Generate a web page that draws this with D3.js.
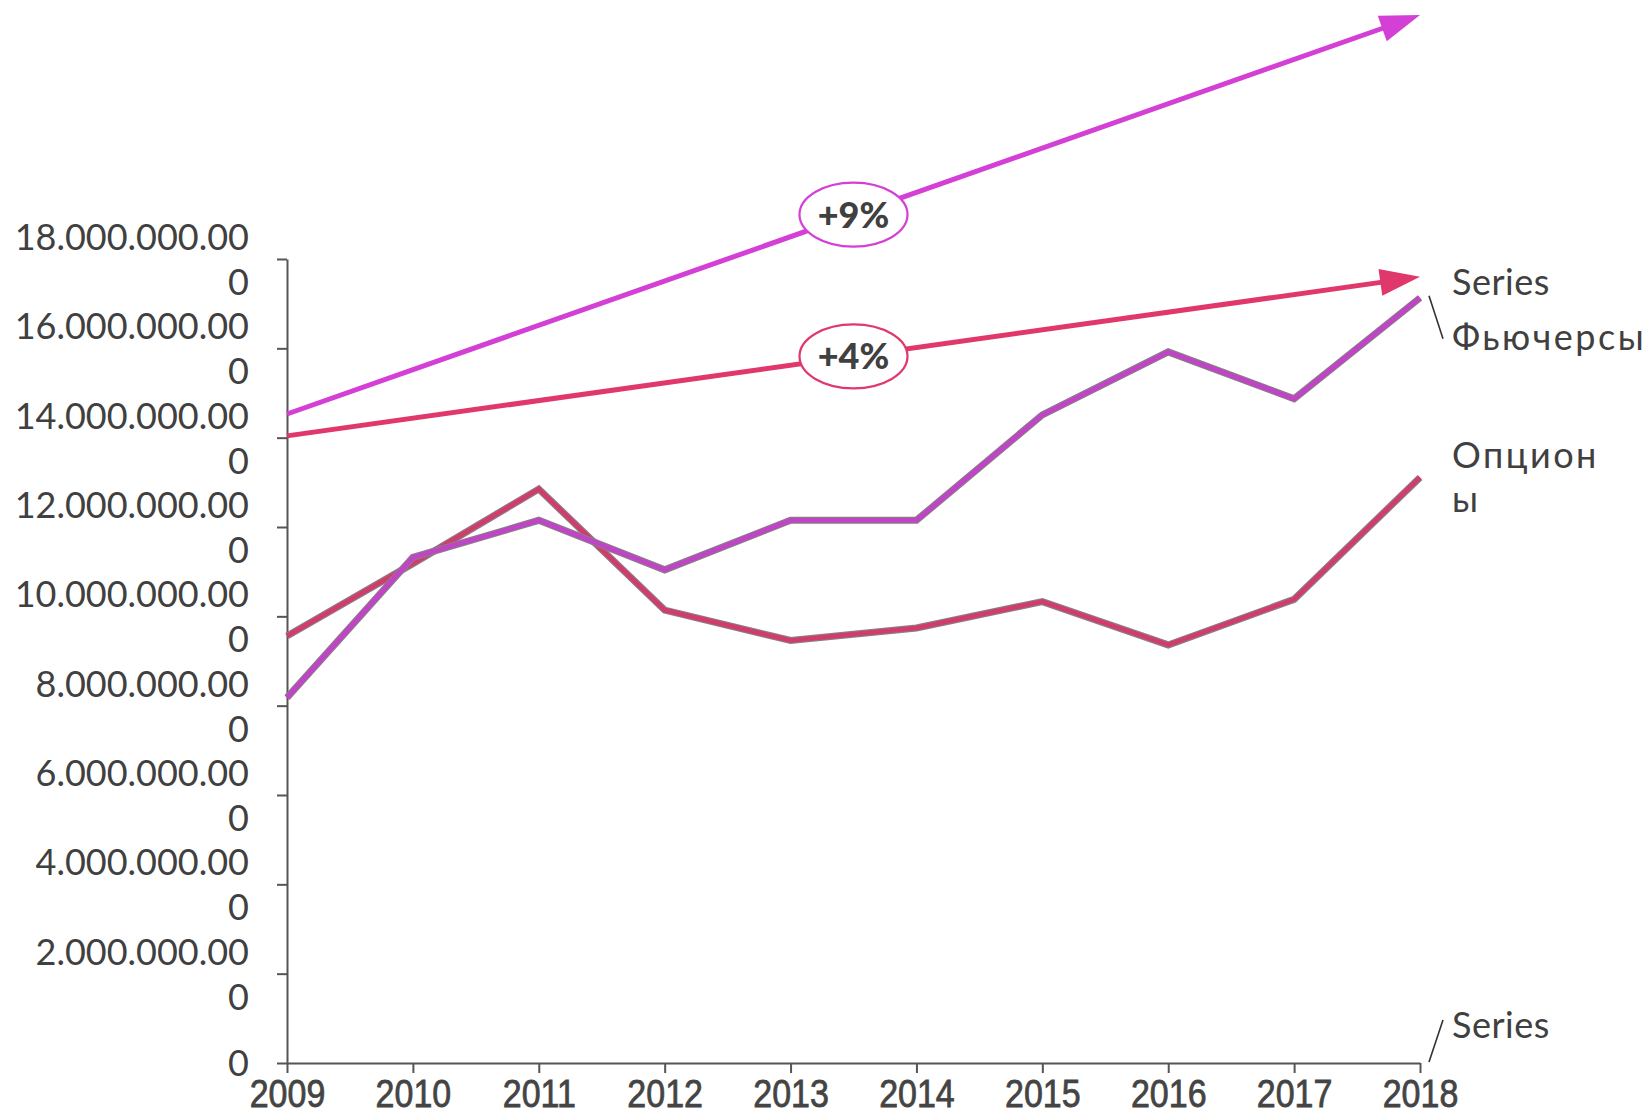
<!DOCTYPE html>
<html>
<head>
<meta charset="utf-8">
<script src="https://cdn.jsdelivr.net/npm/d3@7"></script>
<style>
  body { margin: 0; background: #fff; }
</style>
</head>
<body>
<div id="myChart"></div>
<script>
// data
const years = [2009, 2010, 2011, 2012, 2013, 2014, 2015, 2016, 2017, 2018];
const futures = [8.18e9, 11.32e9, 12.15e9, 11.04e9, 12.15e9, 12.15e9, 14.51e9, 15.92e9, 14.87e9, 17.13e9];
const options = [9.56e9, 11.18e9, 12.85e9, 10.14e9, 9.46e9, 9.74e9, 10.33e9, 9.36e9, 10.38e9, 13.11e9];
const yTicks = [0, 2e9, 4e9, 6e9, 8e9, 10e9, 12e9, 14e9, 16e9, 18e9];
// trend arrows: value at 2009 and at 2018
const trendFutures = [14.53e9, 23.46e9];
const trendOptions = [14.04e9, 17.60e9];
const growthLabels = ["+9%", "+4%"];

const W = 1652, H = 1115;
const plot = {left: 287, right: 1420, top: 259, bottom: 1063};

const svg = d3.select("#myChart")
  .append("svg")
    .attr("width", W)
    .attr("height", H);

const x = d3.scaleLinear().domain([2009, 2018]).range([plot.left, plot.right]);
const y = d3.scaleLinear().domain([0, 18e9]).range([plot.bottom, plot.top]);

const ru = d3.formatLocale({decimal: ",", thousands: ".", grouping: [3], currency: ["", ""]});
const fmt = ru.format(",");

const labelFont = "Lato, 'Open Sans', sans-serif";
const textColor = "#404040";

// Y axis
const yAxis = svg.append("g")
  .attr("transform", `translate(${plot.left},0)`)
  .call(d3.axisLeft(y).tickValues(yTicks).tickSize(10).tickSizeOuter(0).tickFormat(""));
yAxis.select(".domain").attr("stroke", "#555").attr("stroke-width", 2);
yAxis.selectAll(".tick line").attr("stroke", "#555").attr("stroke-width", 2);
yAxis.selectAll(".tick").each(function(d) {
  const s = fmt(d);
  const lines = s.length > 1 ? [s.slice(0, -1), s.slice(-1)] : [s];
  const t = d3.select(this).append("text")
    .attr("x", -38)
    .attr("text-anchor", "end")
    .style("font-family", labelFont)
    .style("font-size", "36px")
    .attr("fill", textColor);
  const lh = 45;
  lines.forEach((l, i) => {
    t.append("tspan")
      .attr("x", -38)
      .attr("y", (i - (lines.length - 1) / 2) * lh)
      .attr("dy", "0.36em")
      .text(l);
  });
});

// X axis
const xAxis = svg.append("g")
  .attr("transform", `translate(0,${plot.bottom})`)
  .call(d3.axisBottom(x).tickValues(years).tickSize(10).tickSizeOuter(0).tickFormat(d3.format("d")));
xAxis.select(".domain").attr("stroke", "#555").attr("stroke-width", 2);
xAxis.selectAll(".tick line").attr("stroke", "#555").attr("stroke-width", 2);
xAxis.selectAll(".tick text")
  .attr("y", 0).attr("dy", 0)
  .attr("transform", "translate(0,43.5) scale(1,1.15)")
  .style("font-family", "'Liberation Sans', Arial, sans-serif")
  .style("font-size", "34px")
  .attr("fill", "#444")
  .attr("stroke", "#444")
  .attr("stroke-width", 0.7);

// series lines
const line = vals => d3.line()
  .x((d, i) => x(years[i]))
  .y(d => y(d))(vals);

[[options, "#d23c68"], [futures, "#c043c8"]].forEach(([vals, col]) => {
  svg.append("path")
    .attr("d", line(vals))
    .attr("fill", "none")
    .attr("stroke", "#8c7a88")
    .attr("stroke-width", 7);
  svg.append("path")
    .attr("d", line(vals))
    .attr("fill", "none")
    .attr("stroke", col)
    .attr("stroke-width", 4.6);
});

// trend arrows with growth labels
function arrow(tr, col, label) {
  const x0 = x(2009), y0 = y(tr[0]), x1 = x(2018), y1 = y(tr[1]);
  const ang = Math.atan2(y1 - y0, x1 - x0);
  const hl = 40, hw = 13.5;
  const bx = x1 - hl * Math.cos(ang), by = y1 - hl * Math.sin(ang);
  svg.append("line")
    .attr("x1", x0).attr("y1", y0)
    .attr("x2", bx + 2 * Math.cos(ang)).attr("y2", by + 2 * Math.sin(ang))
    .attr("stroke", col)
    .attr("stroke-width", 5);
  const px = -Math.sin(ang), py = Math.cos(ang);
  svg.append("path")
    .attr("d", `M${x1},${y1}L${bx + px * hw},${by + py * hw}L${bx - px * hw},${by - py * hw}Z`)
    .attr("fill", col);
  const cx = x(2013.5), cy = y((tr[0] + tr[1]) / 2);
  svg.append("ellipse")
    .attr("cx", cx).attr("cy", cy)
    .attr("rx", 54).attr("ry", 32)
    .attr("fill", "#fff")
    .attr("stroke", col)
    .attr("stroke-width", 2.2);
  svg.append("text")
    .attr("x", cx).attr("y", cy)
    .attr("dy", "0.36em")
    .attr("text-anchor", "middle")
    .style("font-family", labelFont)
    .style("font-weight", 900)
    .style("font-size", "36px")
    .attr("fill", textColor)
    .text(label);
}
arrow(trendFutures, "#d43fd5", growthLabels[0]);
arrow(trendOptions, "#e0386b", growthLabels[1]);

// series labels at the right
const lx = x(2018) + 32;
function label(lines, yBase, lh) {
  const t = svg.append("text")
    .style("font-family", labelFont)
    .style("font-size", "36px")
    .attr("fill", textColor);
  lines.forEach((l, i) => {
    t.append("tspan")
      .attr("x", lx).attr("y", yBase + i * lh)
      .style("letter-spacing", /[а-яА-Я]/.test(l) ? "2.5px" : "0.5px")
      .text(l);
  });
}
label(["Series", "Фьючерсы"], y(futures[9]) - 3, 55);
label(["Опцион", "ы"], y(options[9]) - 9, 44);
label(["Series"], y(0) - 25, 0);

// leader lines
const leader = (xa, ya, xb, yb) => svg.append("line")
  .attr("x1", xa).attr("y1", ya).attr("x2", xb).attr("y2", yb)
  .attr("stroke", "#333").attr("stroke-width", 1.6);
leader(x(2018) + 9, y(futures[9]) - 2, x(2018) + 23, y(futures[9]) + 41);
leader(x(2018) + 9, y(0) - 1, x(2018) + 23, y(0) - 43);
</script>
</body>
</html>
